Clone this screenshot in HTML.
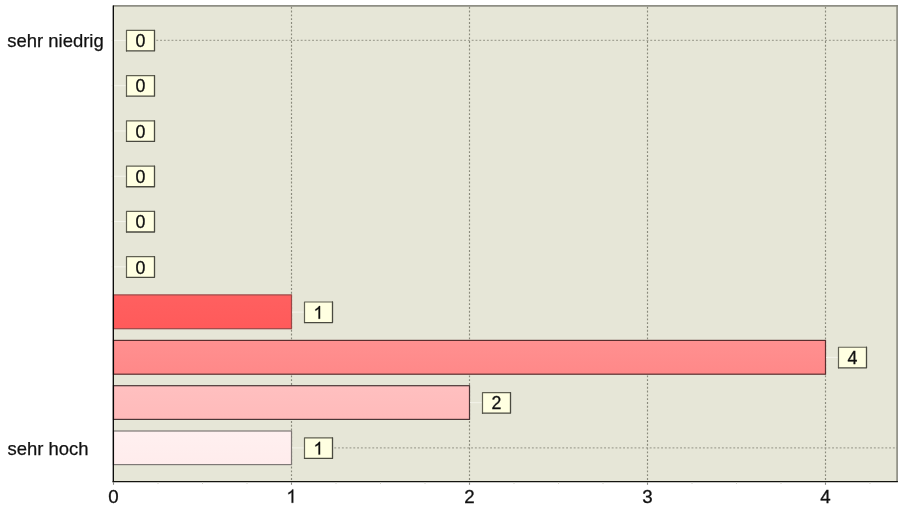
<!DOCTYPE html>
<html><head><meta charset="utf-8"><title>Chart</title><style>html,body{margin:0;padding:0;background:#fff;overflow:hidden}svg text{-webkit-font-smoothing:antialiased}svg{will-change:transform;opacity:0.999}body{width:900px;height:509px}</style></head><body>
<svg width="900" height="509" viewBox="0 0 900 509" style="display:block;font-family:'Liberation Sans',sans-serif">
<defs>
<linearGradient id="g6" x1="0" y1="0" x2="0" y2="1"><stop offset="0" stop-color="#ff6060"/><stop offset="1" stop-color="#ff5a5a"/></linearGradient>
<linearGradient id="g7" x1="0" y1="0" x2="0" y2="1"><stop offset="0" stop-color="#ff9090"/><stop offset="1" stop-color="#ff8888"/></linearGradient>
<linearGradient id="g8" x1="0" y1="0" x2="0" y2="1"><stop offset="0" stop-color="#ffc0c0"/><stop offset="1" stop-color="#ffbaba"/></linearGradient>
<linearGradient id="g9" x1="0" y1="0" x2="0" y2="1"><stop offset="0" stop-color="#fff0f0"/><stop offset="1" stop-color="#ffecec"/></linearGradient>
</defs>
<rect x="0" y="0" width="900" height="509" fill="#fff"/>
<rect x="113" y="6" width="784" height="475" fill="#e6e6d7"/>
<line x1="291.5" y1="6.8" x2="291.5" y2="481" stroke="#8a8a7c" stroke-width="1.15" stroke-dasharray="1.9 1.9"/>
<line x1="469.5" y1="6.8" x2="469.5" y2="481" stroke="#8a8a7c" stroke-width="1.15" stroke-dasharray="1.9 1.9"/>
<line x1="647.5" y1="6.8" x2="647.5" y2="481" stroke="#8a8a7c" stroke-width="1.15" stroke-dasharray="1.9 1.9"/>
<line x1="825.5" y1="6.8" x2="825.5" y2="481" stroke="#8a8a7c" stroke-width="1.15" stroke-dasharray="1.9 1.9"/>
<line x1="156.3" y1="40.3" x2="897" y2="40.3" stroke="#a4a496" stroke-width="1.25" stroke-dasharray="1.9 1.9"/>
<line x1="334.3" y1="447.9" x2="897" y2="447.9" stroke="#a4a496" stroke-width="1.25" stroke-dasharray="1.9 1.9"/>
<line x1="113" y1="5.9" x2="897.9" y2="5.9" stroke="#8e8e84" stroke-width="1.7"/>
<line x1="897.1" y1="5.1" x2="897.1" y2="482" stroke="#88887e" stroke-width="1.6"/>
<rect x="113.5" y="294.9" width="178.0" height="33.8" fill="url(#g6)" stroke="#9a4846" stroke-width="1.2"/>
<rect x="113.5" y="340.4" width="712.0" height="33.8" fill="url(#g7)" stroke="#5a2e2e" stroke-width="1.2"/>
<rect x="113.5" y="385.7" width="356.0" height="33.7" fill="url(#g8)" stroke="#4a3636" stroke-width="1.2"/>
<rect x="113.5" y="431.0" width="178.0" height="33.6" fill="url(#g9)" stroke="#7e7876" stroke-width="1.2"/>
<line x1="111.0" y1="40.40" x2="126" y2="40.40" stroke="#f3f3ea" stroke-width="1"/>
<rect x="126.5" y="30.30" width="28" height="20.6" fill="#ffffe1"/>
<path d="M126.5 50.90V30.30H154.5" fill="none" stroke="#606052" stroke-width="1.2" stroke-linejoin="round" stroke-linecap="round"/>
<path d="M126.5 50.90H154.5V30.30" fill="none" stroke="#4a4a40" stroke-width="1.3" stroke-linejoin="round" stroke-linecap="round"/>
<text x="140.4" y="47.1" font-size="17.8" text-anchor="middle" fill="#111" stroke="#111" stroke-width="0.3">0</text>
<line x1="111.0" y1="85.68" x2="126" y2="85.68" stroke="#f3f3ea" stroke-width="1"/>
<rect x="126.5" y="75.58" width="28" height="20.6" fill="#ffffe1"/>
<path d="M126.5 96.18V75.58H154.5" fill="none" stroke="#606052" stroke-width="1.2" stroke-linejoin="round" stroke-linecap="round"/>
<path d="M126.5 96.18H154.5V75.58" fill="none" stroke="#4a4a40" stroke-width="1.3" stroke-linejoin="round" stroke-linecap="round"/>
<text x="140.4" y="92.38" font-size="17.8" text-anchor="middle" fill="#111" stroke="#111" stroke-width="0.3">0</text>
<line x1="111.0" y1="130.96" x2="126" y2="130.96" stroke="#f3f3ea" stroke-width="1"/>
<rect x="126.5" y="120.86" width="28" height="20.6" fill="#ffffe1"/>
<path d="M126.5 141.46V120.86H154.5" fill="none" stroke="#606052" stroke-width="1.2" stroke-linejoin="round" stroke-linecap="round"/>
<path d="M126.5 141.46H154.5V120.86" fill="none" stroke="#4a4a40" stroke-width="1.3" stroke-linejoin="round" stroke-linecap="round"/>
<text x="140.4" y="137.66" font-size="17.8" text-anchor="middle" fill="#111" stroke="#111" stroke-width="0.3">0</text>
<line x1="111.0" y1="176.24" x2="126" y2="176.24" stroke="#f3f3ea" stroke-width="1"/>
<rect x="126.5" y="166.14" width="28" height="20.6" fill="#ffffe1"/>
<path d="M126.5 186.74V166.14H154.5" fill="none" stroke="#606052" stroke-width="1.2" stroke-linejoin="round" stroke-linecap="round"/>
<path d="M126.5 186.74H154.5V166.14" fill="none" stroke="#4a4a40" stroke-width="1.3" stroke-linejoin="round" stroke-linecap="round"/>
<text x="140.4" y="182.94" font-size="17.8" text-anchor="middle" fill="#111" stroke="#111" stroke-width="0.3">0</text>
<line x1="111.0" y1="221.52" x2="126" y2="221.52" stroke="#f3f3ea" stroke-width="1"/>
<rect x="126.5" y="211.42" width="28" height="20.6" fill="#ffffe1"/>
<path d="M126.5 232.02V211.42H154.5" fill="none" stroke="#606052" stroke-width="1.2" stroke-linejoin="round" stroke-linecap="round"/>
<path d="M126.5 232.02H154.5V211.42" fill="none" stroke="#4a4a40" stroke-width="1.3" stroke-linejoin="round" stroke-linecap="round"/>
<text x="140.4" y="228.22" font-size="17.8" text-anchor="middle" fill="#111" stroke="#111" stroke-width="0.3">0</text>
<line x1="111.0" y1="266.80" x2="126" y2="266.80" stroke="#f3f3ea" stroke-width="1"/>
<rect x="126.5" y="256.70" width="28" height="20.6" fill="#ffffe1"/>
<path d="M126.5 277.30V256.70H154.5" fill="none" stroke="#606052" stroke-width="1.2" stroke-linejoin="round" stroke-linecap="round"/>
<path d="M126.5 277.30H154.5V256.70" fill="none" stroke="#4a4a40" stroke-width="1.3" stroke-linejoin="round" stroke-linecap="round"/>
<text x="140.4" y="273.5" font-size="17.8" text-anchor="middle" fill="#111" stroke="#111" stroke-width="0.3">0</text>
<line x1="292.0" y1="312.08" x2="304" y2="312.08" stroke="#f3f3ea" stroke-width="1"/>
<rect x="304.5" y="301.98" width="28" height="20.6" fill="#ffffe1"/>
<path d="M304.5 322.58V301.98H332.5" fill="none" stroke="#606052" stroke-width="1.2" stroke-linejoin="round" stroke-linecap="round"/>
<path d="M304.5 322.58H332.5V301.98" fill="none" stroke="#4a4a40" stroke-width="1.3" stroke-linejoin="round" stroke-linecap="round"/>
<path d="M763 0H583V1147Q518 1085 412.5 1023T223 930V1104Q373 1174.5 485.5 1275T647 1470H763Z" transform="translate(313.45,318.78) scale(0.008691,-0.008691)" fill="#111" stroke="#111" stroke-width="30"/>
<line x1="826.0" y1="357.36" x2="838" y2="357.36" stroke="#f3f3ea" stroke-width="1"/>
<rect x="838.5" y="347.26" width="28" height="20.6" fill="#ffffe1"/>
<path d="M838.5 367.86V347.26H866.5" fill="none" stroke="#606052" stroke-width="1.2" stroke-linejoin="round" stroke-linecap="round"/>
<path d="M838.5 367.86H866.5V347.26" fill="none" stroke="#4a4a40" stroke-width="1.3" stroke-linejoin="round" stroke-linecap="round"/>
<text x="852.4" y="364.06" font-size="17.8" text-anchor="middle" fill="#111" stroke="#111" stroke-width="0.3">4</text>
<line x1="470.0" y1="402.64" x2="482" y2="402.64" stroke="#f3f3ea" stroke-width="1"/>
<rect x="482.5" y="392.54" width="28" height="20.6" fill="#ffffe1"/>
<path d="M482.5 413.14V392.54H510.5" fill="none" stroke="#606052" stroke-width="1.2" stroke-linejoin="round" stroke-linecap="round"/>
<path d="M482.5 413.14H510.5V392.54" fill="none" stroke="#4a4a40" stroke-width="1.3" stroke-linejoin="round" stroke-linecap="round"/>
<text x="496.4" y="409.34" font-size="17.8" text-anchor="middle" fill="#111" stroke="#111" stroke-width="0.3">2</text>
<line x1="292.0" y1="447.92" x2="304" y2="447.92" stroke="#f3f3ea" stroke-width="1"/>
<rect x="304.5" y="437.82" width="28" height="20.6" fill="#ffffe1"/>
<path d="M304.5 458.42V437.82H332.5" fill="none" stroke="#606052" stroke-width="1.2" stroke-linejoin="round" stroke-linecap="round"/>
<path d="M304.5 458.42H332.5V437.82" fill="none" stroke="#4a4a40" stroke-width="1.3" stroke-linejoin="round" stroke-linecap="round"/>
<path d="M763 0H583V1147Q518 1085 412.5 1023T223 930V1104Q373 1174.5 485.5 1275T647 1470H763Z" transform="translate(313.45,454.62) scale(0.008691,-0.008691)" fill="#111" stroke="#111" stroke-width="30"/>
<line x1="113.3" y1="5.5" x2="113.3" y2="482.2" stroke="#000" stroke-width="1.3"/>
<line x1="112.6" y1="481.6" x2="897.9" y2="481.6" stroke="#14140f" stroke-width="1.45"/>
<line x1="113.5" y1="482.3" x2="113.5" y2="484.8" stroke="#888884" stroke-width="1.1"/>
<line x1="158.0" y1="482.3" x2="158.0" y2="484" stroke="#d4d4cc" stroke-width="1"/>
<line x1="202.5" y1="482.3" x2="202.5" y2="484" stroke="#d4d4cc" stroke-width="1"/>
<line x1="247.0" y1="482.3" x2="247.0" y2="484" stroke="#d4d4cc" stroke-width="1"/>
<line x1="291.5" y1="482.3" x2="291.5" y2="484.8" stroke="#888884" stroke-width="1.1"/>
<line x1="336.0" y1="482.3" x2="336.0" y2="484" stroke="#d4d4cc" stroke-width="1"/>
<line x1="380.5" y1="482.3" x2="380.5" y2="484" stroke="#d4d4cc" stroke-width="1"/>
<line x1="425.0" y1="482.3" x2="425.0" y2="484" stroke="#d4d4cc" stroke-width="1"/>
<line x1="469.5" y1="482.3" x2="469.5" y2="484.8" stroke="#888884" stroke-width="1.1"/>
<line x1="514.0" y1="482.3" x2="514.0" y2="484" stroke="#d4d4cc" stroke-width="1"/>
<line x1="558.5" y1="482.3" x2="558.5" y2="484" stroke="#d4d4cc" stroke-width="1"/>
<line x1="603.0" y1="482.3" x2="603.0" y2="484" stroke="#d4d4cc" stroke-width="1"/>
<line x1="647.5" y1="482.3" x2="647.5" y2="484.8" stroke="#888884" stroke-width="1.1"/>
<line x1="692.0" y1="482.3" x2="692.0" y2="484" stroke="#d4d4cc" stroke-width="1"/>
<line x1="736.5" y1="482.3" x2="736.5" y2="484" stroke="#d4d4cc" stroke-width="1"/>
<line x1="781.0" y1="482.3" x2="781.0" y2="484" stroke="#d4d4cc" stroke-width="1"/>
<line x1="825.5" y1="482.3" x2="825.5" y2="484.8" stroke="#888884" stroke-width="1.1"/>
<line x1="870.0" y1="482.3" x2="870.0" y2="484" stroke="#d4d4cc" stroke-width="1"/>
<text x="113.5" y="502.8" font-size="18.7" text-anchor="middle" fill="#111" stroke="#111" stroke-width="0.3">0</text>
<path d="M763 0H583V1147Q518 1085 412.5 1023T223 930V1104Q373 1174.5 485.5 1275T647 1470H763Z" transform="translate(286.30,502.8) scale(0.009131,-0.009131)" fill="#111" stroke="#111" stroke-width="30"/>
<text x="469.5" y="502.8" font-size="18.7" text-anchor="middle" fill="#111" stroke="#111" stroke-width="0.3">2</text>
<text x="647.5" y="502.8" font-size="18.7" text-anchor="middle" fill="#111" stroke="#111" stroke-width="0.3">3</text>
<text x="825.5" y="502.8" font-size="18.7" text-anchor="middle" fill="#111" stroke="#111" stroke-width="0.3">4</text>
<text x="7.3" y="46.6" font-size="18.45" fill="#111" stroke="#111" stroke-width="0.25">sehr niedrig</text>
<text x="7.6" y="454.6" font-size="18.45" fill="#111" stroke="#111" stroke-width="0.25">sehr hoch</text>
</svg>
</body></html>
